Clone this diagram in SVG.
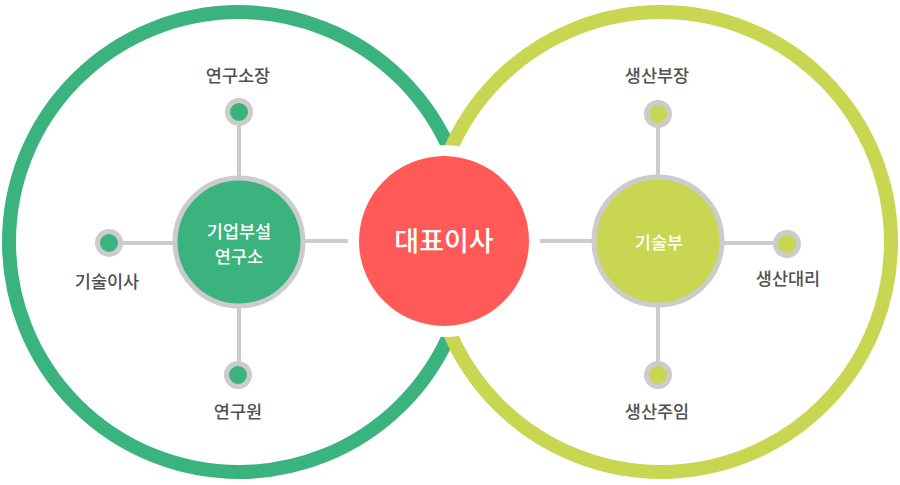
<svg xmlns="http://www.w3.org/2000/svg" width="900" height="485" viewBox="0 0 900 485">
<style>
.ring{fill:none;stroke-width:14}
.g{fill:#3bb37f}
.y{fill:#c8d651}
.conn{stroke:#cccccc;stroke-width:4;fill:none}
.dot{stroke:#cccccc;stroke-width:5}
.hub{stroke:#cccccc;stroke-width:5}
.lbl{font-family:"Noto Sans CJK KR","Noto Sans",sans-serif;font-size:17.5px;font-weight:500;fill:#505050;text-anchor:middle}
.in{font-family:"Noto Sans CJK KR","Noto Sans",sans-serif;font-size:17.5px;font-weight:500;fill:#ffffff;text-anchor:middle}
.big{font-family:"Noto Sans CJK KR","Noto Sans",sans-serif;font-size:27px;font-weight:500;fill:#ffffff;text-anchor:middle}
</style>
<rect width="900" height="485" fill="#ffffff"/>
<g id="rings">
<circle class="ring" cx="239" cy="242" r="230" stroke="#3bb37f"/>
<circle class="ring" cx="661" cy="242" r="230" stroke="#c8d651"/>
</g>
<g id="connectors">
<line class="conn" x1="305" y1="241" x2="348" y2="241"/>
<line class="conn" x1="539" y1="241" x2="594" y2="241"/>
<line class="conn" x1="239" y1="124" x2="239" y2="178"/>
<line class="conn" x1="239" y1="306" x2="239" y2="362"/>
<line class="conn" x1="121" y1="243" x2="174" y2="243"/>
<line class="conn" x1="658" y1="127" x2="658" y2="176"/>
<line class="conn" x1="658" y1="306" x2="658" y2="363"/>
<line class="conn" x1="723" y1="243" x2="775" y2="243"/>
</g>
<g id="ceo">
<circle cx="444" cy="241" r="96" fill="#ffffff"/>
<circle cx="444" cy="241" r="85" fill="#ff5a57"/>
<text class="big" x="444" y="251">대표이사</text>
</g>
<g id="lab">
<circle class="g hub" cx="239" cy="242" r="64"/>
<text class="in" x="239" y="238">기업부설</text>
<text class="in" x="239" y="263">연구소</text>
</g>
<g id="tech">
<circle class="y hub" cx="658" cy="241" r="64"/>
<text class="in" x="659" y="249">기술부</text>
</g>
<g id="lab-head">
<circle class="g dot" cx="239" cy="112" r="11.5"/>
<text class="lbl" x="238" y="82">연구소장</text>
</g>
<g id="tech-director">
<circle class="g dot" cx="109" cy="243" r="11.5"/>
<text class="lbl" x="107" y="288">기술이사</text>
</g>
<g id="researcher">
<circle class="g dot" cx="238" cy="375" r="11.5"/>
<text class="lbl" x="238" y="418">연구원</text>
</g>
<g id="prod-manager">
<circle class="y dot" cx="658" cy="114" r="11.5"/>
<text class="lbl" x="657" y="82">생산부장</text>
</g>
<g id="prod-assistant">
<circle class="y dot" cx="787" cy="244" r="11.5"/>
<text class="lbl" x="788" y="285">생산대리</text>
</g>
<g id="prod-supervisor">
<circle class="y dot" cx="658" cy="375" r="11.5"/>
<text class="lbl" x="657" y="418">생산주임</text>
</g>
</svg>
